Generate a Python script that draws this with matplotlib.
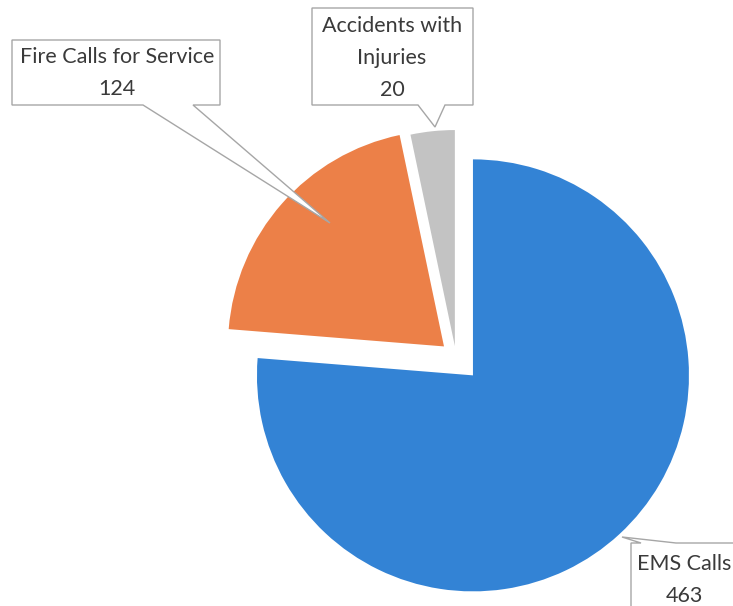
import matplotlib
matplotlib.use("Agg")
import matplotlib.pyplot as plt
from matplotlib.patches import Polygon

categories = ["EMS Calls", "Fire Calls for Service", "Accidents with\nInjuries"]
values = [463, 124, 20]
colors = ["#3383D5", "#EC8048", "#C3C3C3"]
explode = [25, 16, 11]  # in pixel units (radius = 216)

W, H = 733, 606
fig = plt.figure(figsize=(W / 100, H / 100), dpi=100)
fig.patch.set_facecolor("white")
ax = fig.add_axes([0, 0, 1, 1])

def P(x, y):
    return (x, H - y)

R = 216
ax.pie(values, colors=colors, explode=explode, radius=R, center=P(456, 357),
       startangle=90, counterclock=False,
       wedgeprops=dict(linewidth=0), frame=False)

ax.set_xlim(0, W)
ax.set_ylim(0, H)
ax.set_aspect("equal")
ax.axis("off")

edge = "#A6A6A6"
font = "Lato"
fs = 15.5
ls = 1.72
tcol = "#3A3A3A"

def callout(pts):
    poly = Polygon([P(*p) for p in pts], closed=True, facecolor="white",
                   edgecolor=edge, linewidth=1.0, zorder=5)
    ax.add_patch(poly)

# Fire callout
callout([(12, 40), (220, 40), (220, 105), (193, 105), (330, 223), (143, 105), (12, 105)])
ax.text(*P(117, 73), f"{categories[1]}\n{values[1]}", ha="center", va="center",
        fontsize=fs, family=font, color=tcol, linespacing=ls, zorder=6)

# Accidents callout
callout([(312, 8), (473, 8), (473, 105), (445, 105), (435, 127), (418, 105), (312, 105)])
ax.text(*P(392, 58), f"{categories[2]}\n{values[2]}", ha="center", va="center",
        fontsize=fs, family=font, color=tcol, linespacing=ls, zorder=6)

# EMS callout
callout([(631, 543), (641, 543), (622, 537), (676, 543), (745, 543), (745, 620), (631, 620)])
ax.text(*P(684, 580), f"{categories[0]}\n{values[0]}", ha="center", va="center",
        fontsize=fs, family=font, color=tcol, linespacing=ls, zorder=6)

fig.savefig("out.png", dpi=100, facecolor="white")
